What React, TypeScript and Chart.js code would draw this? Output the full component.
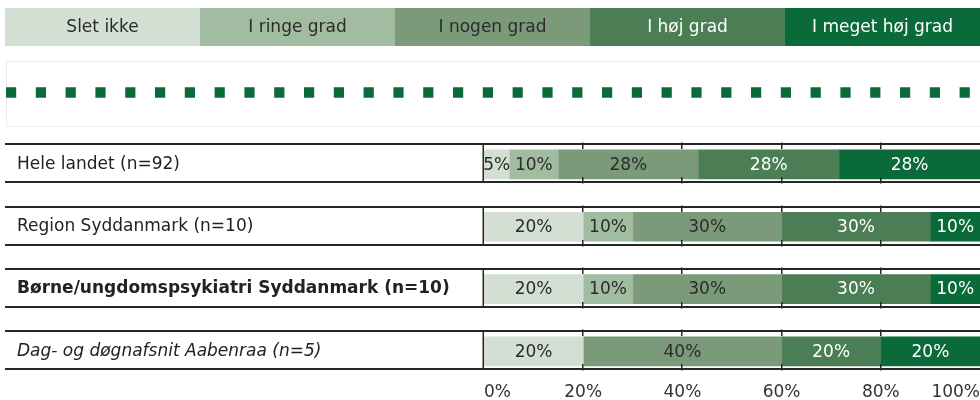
import React, { useEffect, useRef } from "react";
import { Chart, registerables } from "chart.js";

Chart.register(...registerables);

const categories = [
  "Hele landet (n=92)",
  "Region Syddanmark (n=10)",
  "Børne/ungdomspsykiatri Syddanmark (n=10)",
  "Dag- og døgnafsnit Aabenraa (n=5)",
];
const seriesNames = ["Slet ikke", "I ringe grad", "I nogen grad", "I høj grad", "I meget høj grad"];
const sletIkke = [5.1, 20, 20, 20];
const ringeGrad = [9.9, 10, 10, 0];
const nogenGrad = [28.2, 30, 30, 40];
const hojGrad = [28.4, 30, 30, 20];
const megetHojGrad = [28.4, 10, 10, 20];
const xTicks = [0, 20, 40, 60, 80, 100];

const seriesColors = ["#d3dfd2", "#a2bca1", "#7a9a7a", "#4b7e54", "#0b6a3a"];
const seriesTextColors = ["#2b2b2b", "#2b2b2b", "#2b2b2b", "#ffffff", "#ffffff"];
const FONT = "DejaVu Sans";

const decorPlugin = {
  id: "decor",
  afterDraw(chart: any) {
    const ctx = chart.ctx;
    const ds = chart.data.datasets;
    // legend boxes
    const lx0 = 5, lx1 = 980, ly = 8, lh = 38;
    const w = (lx1 - lx0) / ds.length;
    ctx.save();
    ctx.font = `17px "${FONT}"`;
    ctx.textAlign = "center";
    ctx.textBaseline = "middle";
    ds.forEach((d: any, i: number) => {
      ctx.fillStyle = d.backgroundColor;
      ctx.fillRect(lx0 + i * w, ly, w + 0.5, lh);
      ctx.fillStyle = seriesTextColors[i];
      ctx.fillText(d.label, lx0 + i * w + w / 2, ly + lh / 2 + 1);
    });
    // dotted row
    ctx.strokeStyle = "#ececec";
    ctx.lineWidth = 1;
    ctx.strokeRect(6.5, 61.5, 990, 65);
    ctx.strokeStyle = seriesColors[4];
    ctx.lineWidth = 10.4;
    ctx.setLineDash([10.2, 19.6]);
    ctx.beginPath();
    ctx.moveTo(6, 92.5);
    ctx.lineTo(972, 92.5);
    ctx.stroke();
    ctx.restore();
  },
  afterDatasetsDraw(chart: any) {
    const ctx = chart.ctx;
    const y = chart.scales.y;
    const x = chart.scales.x;
    const left = chart.chartArea.left;
    ctx.save();
    // row frames
    chart.data.labels.forEach((_: any, i: number) => {
      const cy = y.getPixelForValue(i);
      const top = Math.round(cy - 20);
      const bot = Math.round(cy + 18);
      ctx.strokeStyle = "#262626";
      ctx.lineWidth = 2;
      ctx.beginPath();
      ctx.moveTo(5, top);
      ctx.lineTo(980, top);
      ctx.moveTo(5, bot);
      ctx.lineTo(980, bot);
      ctx.stroke();
      ctx.lineWidth = 1.5;
      ctx.beginPath();
      ctx.moveTo(left - 0.75, top);
      ctx.lineTo(left - 0.75, bot);
      [20, 40, 60, 80].forEach((v) => {
        const px = Math.round(x.getPixelForValue(v)) - 0.25;
        ctx.moveTo(px, top - 1.5);
        ctx.lineTo(px, top + 5);
        ctx.moveTo(px, bot - 5);
        ctx.lineTo(px, bot + 1.5);
      });
      ctx.stroke();
    });
    // value labels
    ctx.font = `17px "${FONT}"`;
    ctx.textAlign = "center";
    ctx.textBaseline = "middle";
    chart.data.datasets.forEach((d: any, di: number) => {
      const meta = chart.getDatasetMeta(di);
      meta.data.forEach((el: any, i: number) => {
        const v = d.data[i];
        if (!v) return;
        ctx.fillStyle = seriesTextColors[di];
        ctx.fillText(Math.round(v) + "%", (el.x + el.base) / 2, el.y + 1);
      });
    });
    ctx.restore();
  },
};

export default function App() {
  const ref = useRef<HTMLCanvasElement>(null);
  useEffect(() => {
    document.body.style.margin = "0";
    const seriesData = [sletIkke, ringeGrad, nogenGrad, hojGrad, megetHojGrad];
    const chart = new Chart(ref.current!, {
      type: "bar",
      data: {
        labels: categories,
        datasets: seriesNames.map((name, i) => ({
          label: name,
          data: seriesData[i],
          backgroundColor: seriesColors[i],
          borderWidth: 0,
          barThickness: 29,
        })),
      },
      options: {
        indexAxis: "y",
        responsive: false,
        animation: false,
        layout: { padding: { top: 133.3, left: 17, right: 0, bottom: 0 } },
        plugins: { legend: { display: false }, tooltip: { enabled: false } },
        scales: {
          x: {
            stacked: true,
            min: 0,
            max: 100,
            position: "bottom",
            grid: { display: false, drawTicks: false },
            border: { display: false },
            afterBuildTicks: (scale: any) => {
              scale.ticks = xTicks.map((v) => ({ value: v }));
            },
            afterFit: (scale: any) => {
              scale.height = 17.5;
            },
            ticks: {
              align: "inner",
              padding: 0,
              color: "#333",
              font: { family: FONT, size: 17 },
              maxRotation: 0,
              callback: (v: any) => v + "%",
            },
          },
          y: {
            stacked: true,
            position: "left",
            grid: { display: false, drawTicks: false },
            border: { display: false },
            afterFit: (scale: any) => {
              scale.width = 467;
            },
            ticks: {
              crossAlign: "far",
              padding: 0,
              color: "#222",
              font: (c: any) => ({
                family: FONT,
                size: 17,
                weight: c.index === 2 ? "bold" : "normal",
                style: c.index === 3 ? "italic" : "normal",
              }),
            },
          },
        },
      },
      plugins: [decorPlugin],
    } as any);
    return () => chart.destroy();
  }, []);
  return (
    <div style={{ position: "absolute", left: 0, top: 0, width: 980, height: 400 }}>
      <canvas ref={ref} width={980} height={400} style={{ display: "block" }} />
    </div>
  );
}
